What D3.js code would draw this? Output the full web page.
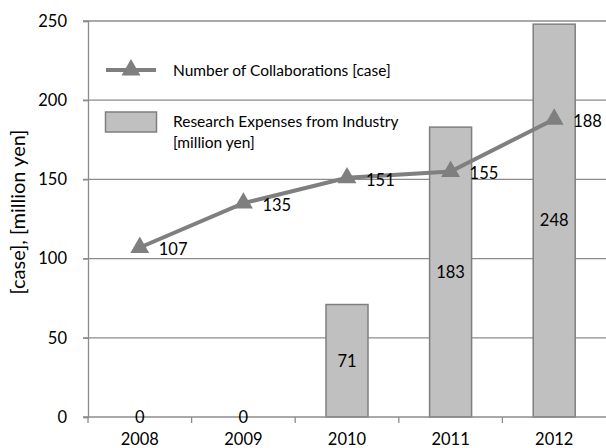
<!DOCTYPE html>
<html>
<head>
<meta charset="utf-8">
<script src="https://cdn.jsdelivr.net/npm/d3@7"></script>
<style>
  body { margin: 0; background: #fff; }
  text { font-family: Lato, "Open Sans", sans-serif; fill: #000; }
</style>
</head>
<body>
<div id="chart"></div>
<script>
const years = ["2008", "2009", "2010", "2011", "2012"];
const collaborations = [107, 135, 151, 155, 188];
const expenses = [0, 0, 71, 183, 248];
const yTicks = [0, 50, 100, 150, 200, 250];
const lineLabel = "Number of Collaborations [case]";
const barLabel = ["Research Expenses from Industry", "[million yen]"];
const yTitle = "[case], [million yen]";

const width = 606, height = 448;
const margin = { top: 21, right: 0, bottom: 31, left: 88 };

const svg = d3.select("#chart").append("svg")
  .attr("width", width)
  .attr("height", height);

const x = d3.scaleBand()
  .domain(years)
  .range([margin.left, width - margin.right]);

const y = d3.scaleLinear()
  .domain([0, 250])
  .range([height - margin.bottom, margin.top]);

const grey = "#7f7f7f";
const axisGrey = "#8c8c8c";

// gridlines
svg.append("g")
  .selectAll("line")
  .data(yTicks.filter(d => d > 0))
  .join("line")
  .attr("x1", margin.left - 5)
  .attr("x2", width)
  .attr("y1", d => y(d))
  .attr("y2", d => y(d))
  .attr("stroke", axisGrey)
  .attr("stroke-width", 1.3);

// y axis
const yAxis = svg.append("g")
  .attr("transform", `translate(${margin.left},0)`)
  .call(d3.axisLeft(y).tickValues(yTicks).tickSize(5).tickPadding(16));
yAxis.select(".domain").attr("stroke", axisGrey).attr("stroke-width", 1.3);
yAxis.selectAll(".tick line").attr("stroke", axisGrey).attr("stroke-width", 1.3);
yAxis.selectAll("text").style("font-size", "16.5px").attr("fill", "#000");

// bars
const barW = 42;
svg.append("g")
  .selectAll("rect")
  .data(years.map((d, i) => ({ year: d, value: expenses[i] })).filter(d => d.value > 0))
  .join("rect")
  .attr("x", d => x(d.year) + x.bandwidth() / 2 - barW / 2)
  .attr("y", d => y(d.value))
  .attr("width", barW)
  .attr("height", d => y(0) - y(d.value))
  .attr("fill", "#c0c0c0")
  .attr("stroke", grey)
  .attr("stroke-width", 1.5);

// x axis
const xAxis = svg.append("g")
  .attr("transform", `translate(0,${y(0)})`)
  .call(d3.axisBottom(x).tickSize(0).tickPadding(16));
xAxis.select(".domain").attr("stroke", axisGrey).attr("stroke-width", 1.3)
  .attr("d", `M${margin.left - 5},0H${width}`);
xAxis.selectAll("text").style("font-size", "16.5px").attr("fill", "#000");
xAxis.append("g")
  .selectAll("line")
  .data(years)
  .join("line")
  .attr("x1", d => x(d))
  .attr("x2", d => x(d))
  .attr("y1", 0)
  .attr("y2", 6)
  .attr("stroke", axisGrey)
  .attr("stroke-width", 1.3);

// bar value labels
svg.append("g")
  .selectAll("text")
  .data(years.map((d, i) => ({ year: d, value: expenses[i] })))
  .join("text")
  .attr("x", d => x(d.year) + x.bandwidth() / 2)
  .attr("y", d => (y(0) + y(d.value)) / 2)
  .attr("dy", "0.35em")
  .attr("text-anchor", "middle")
  .style("font-size", "16.5px")
  .text(d => d.value);

// line
const pts = years.map((d, i) => ({ year: d, value: collaborations[i] }));
svg.append("path")
  .datum(pts)
  .attr("fill", "none")
  .attr("stroke", grey)
  .attr("stroke-width", 4)
  .attr("d", d3.line().x(d => x(d.year) + x.bandwidth() / 2).y(d => y(d.value)));

const tri = d3.symbol().type(d3.symbolTriangle).size(155);
svg.append("g")
  .selectAll("path")
  .data(pts)
  .join("path")
  .attr("d", tri)
  .attr("transform", d => `translate(${x(d.year) + x.bandwidth() / 2},${y(d.value)})`)
  .attr("fill", grey);

svg.append("g")
  .selectAll("text")
  .data(pts)
  .join("text")
  .attr("x", d => x(d.year) + x.bandwidth() / 2 + 19)
  .attr("y", d => y(d.value) + 2)
  .attr("dy", "0.35em")
  .style("font-size", "16.5px")
  .text(d => d.value);

// legend
const lg = svg.append("g");
lg.append("line")
  .attr("x1", 106).attr("x2", 156)
  .attr("y1", 70).attr("y2", 70)
  .attr("stroke", grey).attr("stroke-width", 4);
lg.append("path")
  .attr("d", tri)
  .attr("transform", "translate(131,70)")
  .attr("fill", grey);
lg.append("text")
  .attr("x", 173).attr("y", 71)
  .attr("dy", "0.35em")
  .style("font-size", "15.5px")
  .text(lineLabel);
lg.append("rect")
  .attr("x", 105.5).attr("y", 112)
  .attr("width", 51).attr("height", 20)
  .attr("fill", "#c0c0c0")
  .attr("stroke", grey).attr("stroke-width", 1.5);
lg.append("text")
  .attr("x", 173).attr("y", 127)
  .style("font-size", "15.5px")
  .selectAll("tspan")
  .data(barLabel)
  .join("tspan")
  .attr("x", 173)
  .attr("dy", (d, i) => i === 0 ? 0 : 21)
  .text(d => d);

// y title
svg.append("text")
  .attr("transform", `translate(25,212) rotate(-90)`)
  .attr("text-anchor", "middle")
  .style("font-size", "20px")
  .text(yTitle);
</script>
</body>
</html>
